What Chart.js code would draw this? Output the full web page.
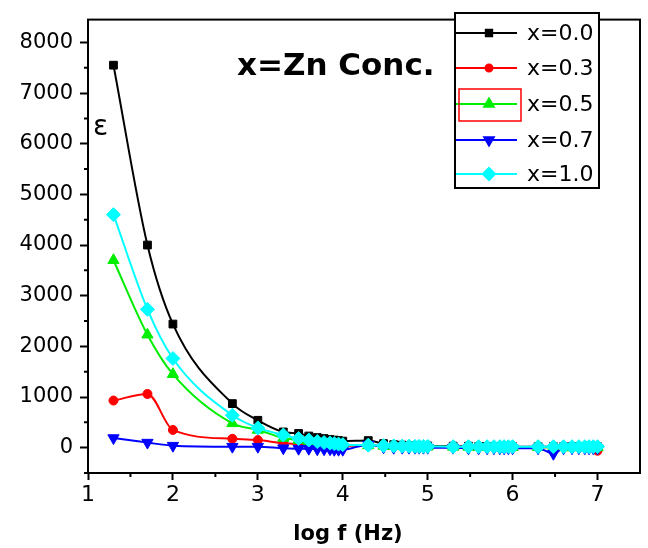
<!DOCTYPE html>
<html>
<head>
<meta charset="utf-8">
<script src="https://cdn.jsdelivr.net/npm/chart.js@4/dist/chart.umd.min.js"></script>
<style>
    body { margin: 0; background: #fff; }
    canvas { display: block; }
</style>
</head>
<body>
<canvas id="chartEps" width="648" height="548"></canvas>
<script>
// log f values (Hz) shared by all samples
const logF = [1.30, 1.70, 2.00, 2.70, 3.00, 3.30, 3.48, 3.60, 3.70, 3.78, 3.85, 3.90, 3.95, 4.00,
    4.30, 4.48, 4.60, 4.70, 4.78, 4.85, 4.90, 4.95, 5.00,
    5.30, 5.48, 5.60, 5.70, 5.78, 5.85, 5.90, 5.95, 6.00,
    6.30, 6.48, 6.60, 6.70, 6.78, 6.85, 6.90, 6.95, 7.00];

const eps00 = [7550, 4000, 2440, 870, 540, 310, 280, 230, 200, 180, 160, 150, 140, 130,
    140, 80, 60, 50, 45, 40, 40, 35, 35,
    30, 30, 25, 25, 25, 25, 20, 20, 20,
    20, 20, 20, 20, 20, 20, 20, 20, 20];
const eps03 = [930, 1060, 350, 175, 150, 90, 70, 60, 55, 50, 45, 45, 40, 40,
    35, 30, 30, 25, 25, 25, 20, 20, 20,
    20, 15, 15, 15, 15, 15, 10, 10, 10,
    10, 10, 10, 10, 10, 10, 10, 10, -60];
const eps05 = [3700, 2230, 1450, 480, 350, 190, 150, 120, 100, 90, 80, 70, 65, 60,
    45, 35, 30, 25, 25, 20, 20, 20, 20,
    15, 15, 15, 10, 10, 10, 10, 10, 10,
    10, 10, 5, 5, 5, 5, 5, 5, 5];
const eps07 = [190, 100, 40, 20, 20, -10, -20, -20, -30, -30, -30, -40, -40, -40,
    60, 10, 0, 0, 0, 0, 0, 0, 0,
    0, -10, -10, -10, -10, -10, -10, -10, -10,
    -10, -120, -10, -10, -10, -10, -10, -10, -10];
const eps10 = [4600, 2730, 1760, 640, 390, 250, 180, 150, 120, 100, 90, 80, 70, 60,
    50, 40, 35, 30, 30, 25, 25, 25, 25,
    20, 20, 20, 20, 20, 20, 20, 20, 20,
    20, 20, 20, 20, 20, 20, 20, 20, 20];

const seriesLabels = ["x=0.0", "x=0.3", "x=0.5", "x=0.7", "x=1.0"];
const seriesColors = ["#000000", "#ff0000", "#00ee00", "#0000ff", "#00ffff"];
const seriesMarkers = ["rect", "circle", "triangle", "triangle", "rectRot"];
const xTickLabels = [1, 2, 3, 4, 5, 6, 7];
const yTickLabels = [0, 1000, 2000, 3000, 4000, 5000, 6000, 7000, 8000];

const FONT = "'DejaVu Sans', sans-serif";

function toPoints(values) {
    let pts = [];
    for (let i = 0; i < values.length; i++) {
        pts.push({ x: logF[i], y: values[i] });
    }
    return pts;
}

function makeDataset(i, values, radius, rotation, order) {
    return {
        label: seriesLabels[i],
        data: toPoints(values),
        borderColor: seriesColors[i],
        backgroundColor: seriesColors[i],
        borderWidth: 2,
        pointStyle: seriesMarkers[i],
        pointRadius: radius,
        pointRotation: rotation,
        pointBorderWidth: 1,
        cubicInterpolationMode: "monotone",
        order: order,
    };
}

// minor ticks, frame, legend and annotations
const decorPlugin = {
    id: "decor",
    afterDraw(chart) {
        const ctx = chart.ctx;
        const area = chart.chartArea;
        const xs = chart.scales.x;
        const ys = chart.scales.y;
        ctx.save();
        ctx.strokeStyle = "#000";
        ctx.lineWidth = 2;
        // minor ticks
        ctx.beginPath();
        for (let v = 1.5; v < 7.5; v += 1) {
            const px = xs.getPixelForValue(v);
            ctx.moveTo(px, area.bottom);
            ctx.lineTo(px, area.bottom + 4);
        }
        for (let v = -500; v <= 8000; v += 1000) {
            const py = ys.getPixelForValue(v);
            ctx.moveTo(area.left, py);
            ctx.lineTo(area.left - 4, py);
        }
        ctx.stroke();
        // frame
        ctx.strokeRect(area.left, area.top, area.right - area.left, area.bottom - area.top);

        // legend box
        const lx = 455, ly = 13, lw = 144, lh = 175;
        ctx.fillStyle = "#fff";
        ctx.fillRect(lx, ly, lw, lh);
        ctx.strokeRect(lx, ly, lw, lh);
        const rows = [33, 68, 104, 140, 174];
        chart.data.datasets.forEach((ds, i) => {
            const y = rows[i];
            ctx.strokeStyle = ds.borderColor;
            ctx.lineWidth = 2;
            ctx.beginPath();
            ctx.moveTo(lx + 1, y);
            ctx.lineTo(517, y);
            ctx.stroke();
            Chart.helpers.drawPoint(ctx, {
                pointStyle: ds.pointStyle,
                radius: ds.pointRadius - 1,
                rotation: ds.pointRotation,
                borderWidth: 1,
            }, 489, y);
            ctx.fillStyle = ds.borderColor;
            ctx.fill();
            ctx.fillStyle = "#000";
            ctx.font = "22px " + FONT;
            ctx.textBaseline = "middle";
            ctx.textAlign = "left";
            ctx.fillText(ds.label, 527, y + 1);
        });
        // red highlight around x=0.5 sample
        ctx.strokeStyle = "#ff0000";
        ctx.lineWidth = 1.5;
        ctx.strokeRect(459, 89, 62, 32);

        // annotation texts
        ctx.fillStyle = "#000";
        ctx.textBaseline = "alphabetic";
        ctx.font = "bold 31px " + FONT;
        ctx.fillText("x=Zn Conc.", 237, 75);
        ctx.font = "28px " + FONT;
        ctx.fillText("\u03b5", 93, 135);
        ctx.font = "bold 21px " + FONT;
        ctx.textAlign = "center";
        ctx.fillText("log f (Hz)", 348, 540);
        ctx.restore();
    }
};

const config = {
    type: "line",
    data: {
        datasets: [
            makeDataset(0, eps00, 5.5, 0, 4),
            makeDataset(1, eps03, 4.5, 0, 3),
            makeDataset(2, eps05, 6.5, 0, 2),
            makeDataset(3, eps07, 6.5, 180, 1),
            makeDataset(4, eps10, 7, 0, 0),
        ]
    },
    options: {
        responsive: false,
        animation: false,
        events: [],
        layout: {
            padding: { top: 11, right: 5, left: 0, bottom: 0 }
        },
        plugins: {
            legend: { display: false },
            tooltip: { enabled: false },
        },
        scales: {
            x: {
                type: "linear",
                min: 1,
                max: 7.5,
                afterFit: function(scale) { scale.height = 75; },
                afterBuildTicks: function(scale) {
                    scale.ticks = xTickLabels.map(v => ({ value: v }));
                },
                border: { display: true, color: "#000", width: 2 },
                grid: {
                    display: true,
                    drawOnChartArea: false,
                    drawTicks: true,
                    tickLength: 7,
                    tickWidth: 2,
                    color: "#000",
                },
                ticks: {
                    color: "#000",
                    padding: 2,
                    maxRotation: 0,
                    font: { family: FONT, size: 22 },
                    callback: function(value) { return String(value); }
                }
            },
            y: {
                type: "linear",
                min: -500,
                max: 8450,
                afterFit: function(scale) { scale.width = 88; },
                afterBuildTicks: function(scale) {
                    scale.ticks = yTickLabels.map(v => ({ value: v }));
                },
                border: { display: true, color: "#000", width: 2 },
                grid: {
                    display: true,
                    drawOnChartArea: false,
                    drawTicks: true,
                    tickLength: 8,
                    tickWidth: 2,
                    color: "#000",
                },
                ticks: {
                    color: "#000",
                    padding: 7,
                    font: { family: FONT, size: 21 },
                    callback: function(value) { return String(value); }
                }
            }
        }
    },
    plugins: [decorPlugin]
};

const chartEps = new Chart(document.getElementById("chartEps"), config);
</script>
</body>
</html>
